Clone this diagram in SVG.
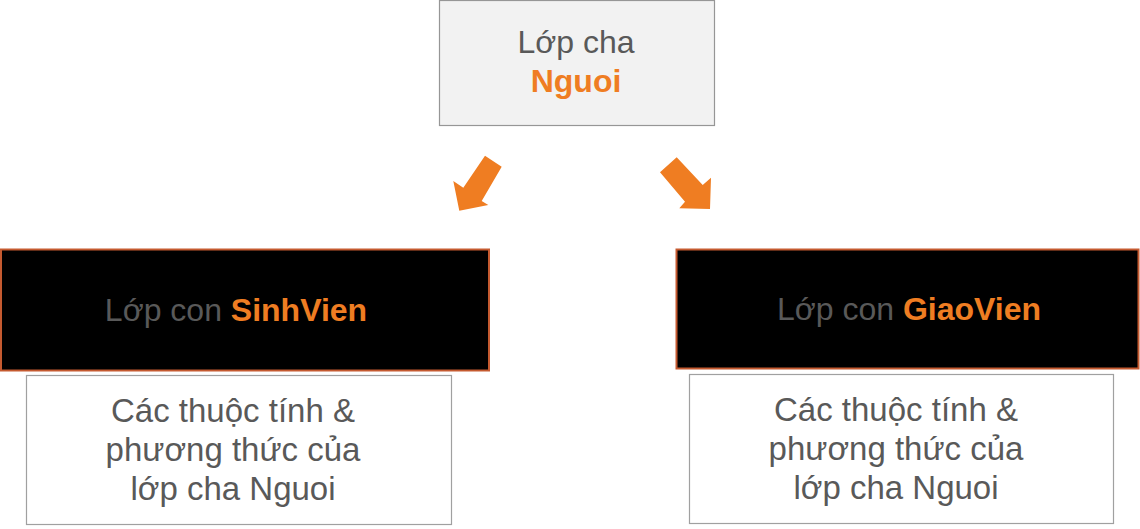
<svg xmlns="http://www.w3.org/2000/svg" width="1140" height="529" viewBox="0 0 1140 529">
<style>
.t{font-family:"Liberation Sans",Arial,sans-serif;fill:#595959;text-anchor:middle}
.o{fill:#EF7D22;font-weight:bold}
.arrow{fill:#EF7D22}
</style>
<rect width="1140" height="529" fill="#FFFFFF"/>
<g id="node-nguoi">
<rect x="439.5" y="0.5" width="275" height="125" fill="#F2F2F2" stroke="#969696" stroke-width="1.2"/>
<text class="t" x="576" y="53" font-size="32">Lớp cha</text>
<text class="t o" x="576" y="92" font-size="32">Nguoi</text>
</g>
<g id="node-sinhvien">
<rect x="1" y="249.5" width="488" height="121" fill="#000000" stroke="#C55A30" stroke-width="2"/>
<text class="t" x="236" y="321" font-size="32">Lớp con <tspan class="o">SinhVien</tspan></text>
</g>
<g id="node-sinhvien-desc">
<rect x="26.5" y="375.5" width="425" height="149" fill="#FFFFFF" stroke="#A0A0A0" stroke-width="1.2"/>
<text class="t" font-size="33"><tspan x="233" y="422">Các thuộc tính &amp;</tspan><tspan x="233" y="461">phương thức của</tspan><tspan x="233" y="500">lớp cha Nguoi</tspan></text>
</g>
<g id="node-giaovien">
<rect x="676.5" y="249.5" width="462" height="119" fill="#000000" stroke="#C55A30" stroke-width="2"/>
<text class="t" x="909" y="320" font-size="32">Lớp con <tspan class="o">GiaoVien</tspan></text>
</g>
<g id="node-giaovien-desc">
<rect x="689.5" y="374.5" width="424" height="149" fill="#FFFFFF" stroke="#A0A0A0" stroke-width="1.2"/>
<text class="t" font-size="33"><tspan x="896" y="421">Các thuộc tính &amp;</tspan><tspan x="896" y="460">phương thức của</tspan><tspan x="896" y="499">lớp cha Nguoi</tspan></text>
</g>
<g id="connectors">
<polygon class="arrow" points="485,155.7 501.7,166.7 481.7,201 488.3,205 459.3,210.7 453.3,181 463.3,187.7"/>
<polygon class="arrow" points="676.7,157.3 660,172.3 685,201.7 679.3,208.3 710,209 711,177.7 702.7,185"/>
</g>
</svg>
